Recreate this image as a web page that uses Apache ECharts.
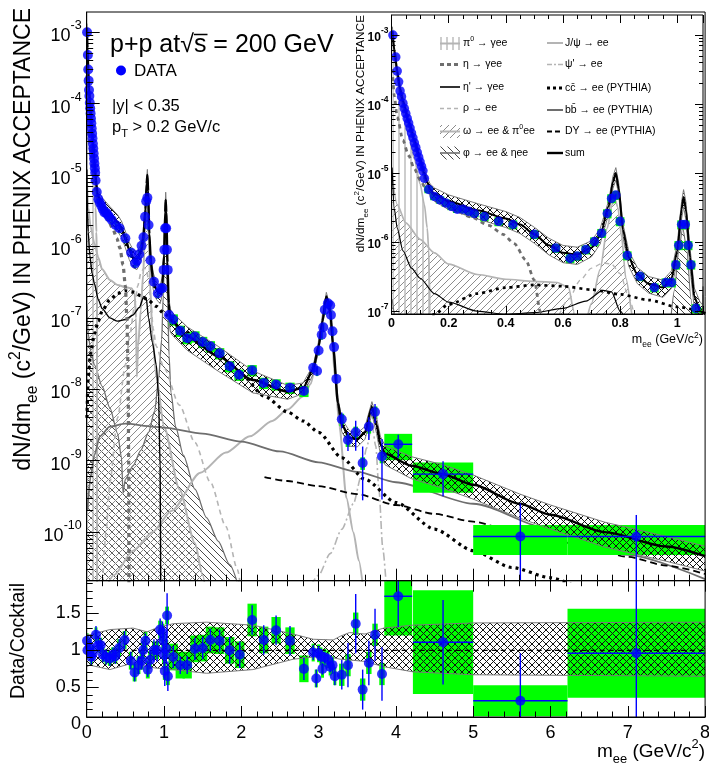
<!DOCTYPE html>
<html>
<head>
<meta charset="utf-8">
<title>Dielectron invariant mass spectrum, p+p at 200 GeV</title>
<script src="https://cdn.jsdelivr.net/npm/echarts@6.0.0/dist/echarts.min.js"></script>
<style>
html, body { margin: 0; padding: 0; background: #ffffff; }
#chart { width: 709px; height: 765px; }
</style>
</head>
<body>
<div id="chart"></div>
<script>
// ---------- measured yield dN/dm_ee (c^2/GeV) ----------
const dataMass = [0.005,0.015,0.02,0.025,0.03,0.035,0.04,0.045,0.05,0.055,
  0.06,0.065,0.07,0.075,0.08,0.085,0.09,0.095,0.10,0.105,
  0.11,0.115,0.13,0.15,0.17,0.19,0.21,0.23,0.25,0.27,
  0.29,0.325,0.375,0.425,0.5,0.575,0.625,0.65,0.68,0.71,
  0.735,0.755,0.77,0.785,0.80,0.825,0.87,0.92,0.96,0.98,
  0.995,1.005,1.015,1.028,1.038,1.048,1.065,1.12,1.21,1.30,
  1.40,1.50,1.60,1.72,1.85,1.97,2.14,2.29,2.45,2.63,
  2.81,2.93,2.98,3.00,3.04,3.06,3.08,3.12,3.15,3.16,
  3.18,3.20,3.23,3.30,3.38,3.48,3.57,3.65,3.73,3.82,
  4.03,4.61,5.61,7.11];
const dataYield = [1.0e-3,4.8e-4,3.0e-4,2.1e-4,1.55e-4,1.28e-4,1.03e-4,8.6e-5,7.3e-5,6.2e-5,
  5.3e-5,4.5e-5,3.8e-5,3.25e-5,2.75e-5,2.35e-5,2.0e-5,1.7e-5,1.45e-5,1.25e-5,
  1.08e-5,8.4e-6,5.8e-6,4.6e-6,4.1e-6,3.7e-6,3.3e-6,3.0e-6,3.0e-6,2.8e-6,
  2.6e-6,2.35e-6,2.0e-6,1.8e-6,1.3e-6,8.2e-7,5.8e-7,6.3e-7,7.8e-7,1.02e-6,
  1.35e-6,2.6e-6,4.3e-6,4.8e-6,2.0e-6,6.4e-7,3.2e-7,2.2e-7,2.6e-7,2.6e-7,
  4.7e-7,9.0e-7,1.8e-6,1.8e-6,9.0e-7,4.7e-7,1.1e-7,9.5e-8,6.6e-8,5.2e-8,
  5.5e-8,4.6e-8,4.0e-8,3.2e-8,2.1e-8,1.6e-8,1.85e-8,1.23e-8,1.17e-8,1.05e-8,
  9.5e-9,2.0e-8,1.8e-8,3.5e-8,5.8e-8,7.4e-8,1.3e-7,1.6e-7,1.5e-7,1.1e-7,
  6.5e-8,3.9e-8,1.4e-8,3.8e-9,1.95e-9,2.5e-9,9.3e-10,3.0e-9,4.8e-9,1.15e-9,
  1.7e-9,6.5e-10,8.7e-11,8.7e-11];
// relative statistical uncertainty
const dataStat = [0.02,0.02,0.02,0.02,0.02,0.02,0.02,0.02,0.02,0.02,
  0.02,0.02,0.02,0.02,0.02,0.02,0.02,0.02,0.02,0.02,
  0.02,0.02,0.02,0.02,0.02,0.02,0.02,0.02,0.02,0.02,
  0.02,0.05,0.05,0.05,0.05,0.05,0.05,0.05,0.05,0.05,
  0.05,0.05,0.05,0.05,0.05,0.05,0.05,0.05,0.05,0.05,
  0.05,0.05,0.05,0.05,0.05,0.05,0.05,0.12,0.12,0.12,
  0.12,0.12,0.12,0.12,0.12,0.12,0.12,0.12,0.12,0.12,
  0.12,0.1,0.1,0.1,0.1,0.1,0.1,0.1,0.1,0.1,
  0.1,0.1,0.1,0.25,0.3,0.45,0.7,0.35,0.3,0.75,
  0.36,0.51,1.9,1.0];
// relative systematic uncertainty
const dataSyst = [0.12,0.12,0.12,0.12,0.12,0.12,0.12,0.12,0.12,0.12,
  0.12,0.12,0.12,0.12,0.12,0.12,0.12,0.12,0.12,0.12,
  0.12,0.12,0.12,0.12,0.12,0.12,0.12,0.12,0.12,0.12,
  0.12,0.15,0.15,0.15,0.15,0.15,0.15,0.15,0.15,0.15,
  0.15,0.15,0.15,0.15,0.15,0.15,0.15,0.15,0.15,0.15,
  0.15,0.15,0.15,0.15,0.15,0.15,0.15,0.18,0.18,0.18,
  0.18,0.18,0.18,0.18,0.18,0.18,0.18,0.18,0.18,0.18,
  0.18,0.15,0.15,0.15,0.15,0.15,0.15,0.15,0.15,0.15,
  0.15,0.15,0.15,0.2,0.2,0.2,0.2,0.2,0.2,0.2,
  0.4,0.45,0.45,0.45];
// half bin width (GeV/c^2)
const dataHalfWidth = [0.0025,0.0025,0.0025,0.0025,0.0025,0.0025,0.0025,0.0025,0.0025,0.0025,
  0.0025,0.0025,0.0025,0.0025,0.0025,0.0025,0.0025,0.0025,0.0025,0.0025,
  0.0025,0.0025,0.015,0.015,0.015,0.015,0.015,0.015,0.015,0.015,
  0.015,0.015,0.015,0.015,0.015,0.015,0.015,0.015,0.015,0.015,
  0.015,0.015,0.015,0.015,0.015,0.015,0.015,0.015,0.015,0.015,
  0.015,0.015,0.015,0.015,0.015,0.015,0.015,0.06,0.06,0.06,
  0.06,0.06,0.06,0.06,0.06,0.06,0.06,0.06,0.06,0.06,
  0.06,0.015,0.015,0.015,0.015,0.015,0.015,0.015,0.015,0.015,
  0.015,0.015,0.015,0.03,0.03,0.03,0.03,0.03,0.03,0.03,
  0.18,0.39,0.61,0.89];

// ---------- data / cocktail ----------
const ratioMass = [0.005,0.01,0.04,0.06,0.08,0.12,0.15,0.18,0.21,0.25,
  0.30,0.34,0.37,0.42,0.49,0.57,0.62,0.67,0.71,0.73,
  0.76,0.79,0.82,0.87,0.91,0.95,0.98,0.99,1.0,1.01,
  1.03,1.04,1.05,1.12,1.21,1.30,1.40,1.50,1.60,1.72,
  1.85,1.98,2.14,2.29,2.45,2.63,2.81,2.93,2.97,3.0,
  3.03,3.05,3.08,3.12,3.15,3.18,3.21,3.30,3.38,3.48,
  3.57,3.65,3.73,3.82,4.03,4.61,5.61,7.11];
const ratioValue = [1.13,1.0,1.05,0.91,0.96,1.21,1.07,1.07,0.94,0.91,
  0.89,0.94,0.92,1.03,1.14,0.86,0.70,0.80,0.86,1.0,
  1.13,0.74,0.87,1.0,1.0,1.28,1.24,1.13,0.94,0.72,
  1.02,1.47,0.65,0.91,0.80,0.80,1.02,1.03,1.14,1.13,
  1.0,0.94,1.41,1.14,1.27,1.13,0.75,0.97,0.62,0.96,
  0.92,0.75,0.90,0.88,0.78,0.80,0.65,0.67,0.80,1.36,
  0.47,0.83,1.21,0.68,1.73,1.11,0.32,0.96];
const ratioStat = [0.08,0.1,0.1,0.1,0.1,0.12,0.1,0.1,0.1,0.1,
  0.1,0.1,0.1,0.12,0.12,0.12,0.12,0.12,0.12,0.12,
  0.1,0.1,0.12,0.15,0.15,0.15,0.15,0.15,0.15,0.2,
  0.2,0.3,0.2,0.15,0.12,0.12,0.15,0.15,0.15,0.15,
  0.18,0.18,0.2,0.2,0.2,0.2,0.15,0.1,0.12,0.1,
  0.1,0.08,0.08,0.08,0.08,0.1,0.12,0.2,0.3,0.4,
  0.27,0.3,0.35,0.36,0.42,0.57,0.64,1.0];
const ratioSyst = [0.1,0.1,0.1,0.1,0.1,0.1,0.1,0.1,0.1,0.1,
  0.1,0.1,0.1,0.12,0.12,0.12,0.12,0.12,0.12,0.12,
  0.12,0.12,0.12,0.12,0.12,0.12,0.12,0.12,0.12,0.12,
  0.12,0.12,0.12,0.18,0.18,0.18,0.18,0.18,0.18,0.18,
  0.18,0.18,0.22,0.18,0.18,0.18,0.18,0.12,0.12,0.12,
  0.12,0.12,0.12,0.12,0.12,0.12,0.12,0.15,0.15,0.15,
  0.15,0.15,0.15,0.15,0.53,0.7,0.21,0.6];
const ratioHalfWidth = [0.02,0.02,0.02,0.02,0.02,0.02,0.02,0.02,0.02,0.02,
  0.025,0.025,0.025,0.025,0.025,0.025,0.025,0.025,0.025,0.025,
  0.025,0.025,0.025,0.025,0.025,0.025,0.025,0.025,0.025,0.025,
  0.025,0.025,0.025,0.06,0.06,0.06,0.06,0.06,0.06,0.06,
  0.06,0.06,0.06,0.06,0.06,0.06,0.06,0.02,0.02,0.02,
  0.02,0.02,0.02,0.02,0.02,0.02,0.02,0.035,0.035,0.035,
  0.035,0.035,0.035,0.035,0.18,0.39,0.61,0.89];

// cocktail uncertainty band around unity
const ratioBandMass = [0,0.04,0.3,0.6,0.78,0.9,1.12,1.55,2.15,2.67,2.93,3.19,3.28,3.4,3.6,3.84,4.22,5.0,8.0];
const ratioBandHigh = [1.22,1.21,1.28,1.30,1.25,1.30,1.36,1.38,1.34,1.22,1.15,1.14,1.19,1.24,1.22,1.30,1.34,1.37,1.38];
const ratioBandLow  = [0.78,0.80,0.74,0.83,0.78,0.76,0.74,0.69,0.74,0.88,0.91,0.90,0.88,0.87,0.85,0.78,0.71,0.67,0.65];

// ---------- cocktail sum with relative uncertainty ----------
const sumMass = [0.003,0.01,0.02,0.03,0.04,0.06,0.08,0.10,0.115,0.125,
  0.135,0.15,0.2,0.3,0.4,0.45,0.5,0.55,0.6,0.65,
  0.7,0.73,0.76,0.775,0.785,0.795,0.81,0.83,0.86,0.9,
  0.95,0.98,1.0,1.015,1.022,1.03,1.045,1.06,1.08,1.1,
  1.3,1.7,2.15,2.6,2.8,2.93,3.0,3.05,3.1,3.15,
  3.19,3.25,3.3,3.4,3.5,3.6,3.69,3.75,3.8,3.86,
  4.2,4.6,5.0,5.6,6.0,6.7,7.5,8.0];
const sumYield = [1.15e-3,6.0e-4,3.0e-4,1.65e-4,1.1e-4,5.6e-5,3.0e-5,1.55e-5,9.8e-6,7.4e-6,
  5.8e-6,5.0e-6,3.9e-6,2.9e-6,2.2e-6,1.8e-6,1.3e-6,9.0e-7,7.0e-7,6.6e-7,
  8.3e-7,1.25e-6,3.3e-6,7.5e-6,1.0e-5,6.0e-6,1.5e-6,6.0e-7,3.4e-7,2.5e-7,
  2.2e-7,3.0e-7,7.5e-7,3.0e-6,4.5e-6,3.0e-6,6.0e-7,1.6e-7,1.0e-7,9.0e-8,
  5.5e-8,2.9e-8,1.35e-8,9.3e-9,1.05e-8,1.9e-8,4.0e-8,9.0e-8,2.0e-7,1.25e-7,
  3.8e-8,6.5e-9,3.2e-9,2.1e-9,2.0e-9,2.5e-9,5.6e-9,3.2e-9,1.7e-9,1.25e-9,
  8.5e-10,6.5e-10,4.6e-10,2.5e-10,1.75e-10,1.0e-10,6.3e-11,4.6e-11];
const sumRelErr = [0.15,0.15,0.15,0.15,0.15,0.15,0.15,0.16,0.17,0.18,
  0.2,0.22,0.24,0.25,0.26,0.26,0.26,0.27,0.28,0.28,
  0.26,0.25,0.22,0.2,0.2,0.2,0.22,0.25,0.26,0.27,
  0.28,0.28,0.28,0.28,0.28,0.3,0.32,0.34,0.35,0.35,
  0.36,0.38,0.34,0.22,0.17,0.15,0.14,0.14,0.14,0.14,
  0.15,0.18,0.2,0.24,0.22,0.2,0.2,0.25,0.28,0.3,
  0.34,0.36,0.37,0.37,0.37,0.38,0.38,0.38];

// ---------- cocktail components [mass, yield] ----------
const cocktailPi0 = [[0.003,1.0e-3],[0.01,4.7e-4],[0.02,2.35e-4],[0.03,1.3e-4],[0.04,7.5e-5],[0.06,3.5e-5],
  [0.08,1.6e-5],[0.1,7e-6],[0.115,3.5e-6],[0.125,1.6e-6],[0.13,8e-7],[0.1335,2e-7],[0.1348,1e-11]];
const cocktailEta = [[0.003,3.2e-4],[0.01,1.3e-4],[0.02,6.5e-5],[0.04,3.0e-5],[0.06,1.8e-5],[0.08,1.15e-5],
  [0.1,8.0e-6],[0.12,6.0e-6],[0.14,4.7e-6],[0.17,3.8e-6],[0.22,2.9e-6],[0.28,2.3e-6],[0.34,1.75e-6],
  [0.39,1.3e-6],[0.43,9.5e-7],[0.47,5.5e-7],[0.5,2.8e-7],[0.52,1.0e-7],[0.535,2e-8],[0.543,1e-9],[0.547,1e-11]];
const cocktailEtaPrime = [[0.002,1.2e-5],[0.01,3e-6],[0.02,1.6e-6],[0.04,7.5e-7],[0.07,4.2e-7],[0.1,3.0e-7],
  [0.15,1.8e-7],[0.2,1.35e-7],[0.3,1.0e-7],[0.4,9e-8],[0.5,9.5e-8],[0.6,1.1e-7],[0.68,1.4e-7],[0.74,2.0e-7],
  [0.77,1.9e-7],[0.8,1.0e-7],[0.85,4.5e-8],[0.9,2.2e-8],[0.93,8e-9],[0.95,8e-10],[0.958,1e-11]];
const cocktailRho = [[0.2,1.5e-11],[0.25,1e-10],[0.3,5e-10],[0.4,4e-9],[0.5,2.2e-8],[0.56,6e-8],[0.62,1.5e-7],
  [0.66,2.8e-7],[0.7,4.2e-7],[0.74,5e-7],[0.77,4.8e-7],[0.8,3.5e-7],[0.83,1.6e-7],[0.86,7e-8],[0.9,4e-8],
  [1.0,2e-8],[1.2,6e-9],[1.4,1.8e-9],[1.6,5e-10],[1.8,1.2e-10],[1.95,3e-11],[2.02,1e-11]];
const cocktailOmega = [[0.002,9e-6],[0.02,3.5e-6],[0.05,1.9e-6],[0.1,1.1e-6],[0.15,7e-7],[0.2,4.8e-7],
  [0.3,3.4e-7],[0.4,2.9e-7],[0.5,2.7e-7],[0.58,2.6e-7],[0.62,2.2e-7],[0.638,1e-7],[0.648,1.5e-8],
  [0.665,4e-8],[0.7,1.3e-7],[0.73,4e-7],[0.755,1.6e-6],[0.772,3.5e-6],[0.782,4.2e-6],[0.792,3.2e-6],
  [0.805,1.2e-6],[0.82,3e-7],[0.85,6e-8],[0.9,1.5e-8],[1.0,3e-9],[1.2,4e-10],[1.4,7e-11],[1.5,2.5e-11],[1.56,1e-11]];
const cocktailPhi = [[0.002,1.5e-7],[0.02,6e-8],[0.05,3.5e-8],[0.1,2.2e-8],[0.2,1.1e-8],[0.3,5.5e-9],
  [0.4,2.4e-9],[0.45,1.1e-9],[0.47,3.5e-10],[0.5,5.5e-10],[0.6,8.5e-10],[0.7,1.4e-9],[0.8,2.5e-9],
  [0.88,5e-9],[0.93,1.4e-8],[0.97,5e-8],[0.99,2e-7],[1.005,7.5e-7],[1.019,1.6e-6],[1.033,8e-7],
  [1.048,1.5e-7],[1.065,3e-8],[1.09,9e-9],[1.15,3e-9],[1.25,1.2e-9],[1.4,4e-10],[1.55,1.6e-10],
  [1.7,7.5e-11],[1.85,3.5e-11],[1.98,1.5e-11]];
const cocktailJpsi = [[0.2,1.2e-11],[0.35,2.5e-11],[0.6,5.5e-11],[0.85,1.0e-10],[1.1,2e-10],[1.47,6.8e-10],
  [1.8,1.3e-9],[2.11,2.2e-9],[2.4,3.6e-9],[2.6,5.2e-9],[2.8,8e-9],[2.9,1.2e-8],[2.97,2.6e-8],[3.02,6e-8],
  [3.06,1.2e-7],[3.1,1.75e-7],[3.13,1.5e-7],[3.17,6e-8],[3.21,1.5e-8],[3.27,3e-9],[3.36,3e-10],
  [3.45,1e-10],[3.52,4e-11],[3.58,1.5e-11]];
const cocktailPsiPrime = [[2.9,1.8e-11],[3.0,2.5e-11],[3.15,5e-11],[3.3,1.1e-10],[3.45,2.5e-10],[3.55,6e-10],
  [3.62,1.5e-9],[3.69,3.2e-9],[3.74,1.6e-9],[3.78,4e-10],[3.83,6e-11],[3.88,1.5e-11]];
const cocktailCharm = [[0.003,4e-9],[0.02,1.5e-8],[0.05,3.2e-8],[0.1,6e-8],[0.15,9e-8],[0.2,1.25e-7],
  [0.3,1.8e-7],[0.4,2.2e-7],[0.5,2.4e-7],[0.6,2.3e-7],[0.7,2.05e-7],[0.8,1.75e-7],[0.9,1.45e-7],
  [1.0,1.15e-7],[1.2,7.5e-8],[1.5,4.2e-8],[1.8,2.4e-8],[2.0,1.6e-8],[2.3,8e-9],[2.6,4.8e-9],[2.8,3.6e-9],
  [3.0,2.5e-9],[3.3,1.1e-9],[3.6,5.5e-10],[4.0,2.6e-10],[4.5,1.1e-10],[5.0,5.5e-11],[5.5,3.2e-11],
  [6.0,2.3e-11],[6.3,1.8e-11]];
const cocktailBottom = [[0.01,2e-10],[0.05,6e-10],[0.1,1.2e-9],[0.17,2.2e-9],[0.3,3.0e-9],[0.5,3.3e-9],
  [0.86,3.0e-9],[1.0,2.9e-9],[1.5,2.4e-9],[2.0,1.85e-9],[2.5,1.35e-9],[3.0,9.5e-10],[3.5,7e-10],
  [4.0,5e-10],[5.0,2.5e-10],[6.0,1.1e-10],[7.0,4.8e-11],[8.0,2.2e-11]];
const cocktailDrellYan = [[2.3,5.9e-10],[2.6,5.2e-10],[3.0,4.4e-10],[3.5,3.4e-10],[4.0,2.4e-10],[4.5,1.8e-10],
  [5.0,1.4e-10],[5.5,1.05e-10],[6.0,8e-11],[6.5,6e-11],[7.0,4.5e-11],[7.5,3.4e-11],[8.0,2.6e-11]];

// ---------- axis ranges and tick labels ----------
const mainRange = [2.09e-11, 1.92e-3];
const insetRange = [9.1e-8, 1.95e-3];
const insetMassMax = 1.09;
const mainDecades = [1e-10,1e-9,1e-8,1e-7,1e-6,1e-5,1e-4,1e-3];
const insetDecades = [1e-7,1e-6,1e-5,1e-4,1e-3];
const ratioLabels = [0.5, 1, 1.5];
const ratioMinor = [0.2,0.3,0.4,0.6,0.7,0.8,0.9,1.1,1.2,1.3,1.4,1.6,1.7,1.8,1.9];

const FONT = "'Liberation Sans', Arial, Helvetica, sans-serif";
const LIGHT = '#b4b4b4';
const DARK = '#6e6e6e';
const BLUE = '#0000ff';
const GREEN = '#00ff00';

function logMinor(range) {
  const out = [];
  for (let e = Math.floor(Math.log10(range[0])); e <= Math.ceil(Math.log10(range[1])); e++) {
    for (let k = 2; k <= 9; k++) {
      const v = k * Math.pow(10, e);
      if (v > range[0] && v < range[1]) out.push(v);
    }
  }
  return out;
}

function hatch(kind, color, size, width) {
  const c = document.createElement('canvas');
  c.width = size; c.height = size;
  const g = c.getContext('2d');
  g.strokeStyle = color; g.lineWidth = width;
  g.beginPath();
  if (kind === 'v') { g.moveTo(size / 2, 0); g.lineTo(size / 2, size); }
  if (kind === '/' || kind === 'x') {
    g.moveTo(-1, size + 1); g.lineTo(size + 1, -1);
    g.moveTo(-1, 1); g.lineTo(1, -1);
    g.moveTo(size - 1, size + 1); g.lineTo(size + 1, size - 1);
  }
  if (kind === '\\' || kind === 'x') {
    g.moveTo(-1, -1); g.lineTo(size + 1, size + 1);
    g.moveTo(size - 1, -1); g.lineTo(size + 1, 1);
    g.moveTo(-1, size - 1); g.lineTo(1, size + 1);
  }
  g.stroke();
  return c;
}
const patPi0 = hatch('v', '#bdbdbd', 6, 1.5);
const patOmega = hatch('/', '#8c8c8c', 7, 1);
const patPhi = hatch('\\', '#4a4a4a', 7, 1);
const patBand = hatch('x', '#111111', 7, 1);

function pattern(p) { return { image: p, repeat: 'repeat' }; }

// Sutherland-Hodgman clipping of a polygon (pixel coords) to a rectangle
function clipPolygon(points, r) {
  const x0 = r.x, x1 = r.x + r.width, y0 = r.y, y1 = r.y + r.height;
  const planes = [
    [p => p[0] >= x0, (a, b) => [x0, a[1] + (x0 - a[0]) / (b[0] - a[0]) * (b[1] - a[1])]],
    [p => p[0] <= x1, (a, b) => [x1, a[1] + (x1 - a[0]) / (b[0] - a[0]) * (b[1] - a[1])]],
    [p => p[1] >= y0, (a, b) => [a[0] + (y0 - a[1]) / (b[1] - a[1]) * (b[0] - a[0]), y0]],
    [p => p[1] <= y1, (a, b) => [a[0] + (y1 - a[1]) / (b[1] - a[1]) * (b[0] - a[0]), y1]]
  ];
  let out = points;
  for (const [inside, cut] of planes) {
    const input = out;
    out = [];
    for (let i = 0; i < input.length; i++) {
      const cur = input[i], prev = input[(i + input.length - 1) % input.length];
      const ci = inside(cur), pi = inside(prev);
      if (ci) { if (!pi) out.push(cut(prev, cur)); out.push(cur); }
      else if (pi) out.push(cut(prev, cur));
    }
    if (!out.length) break;
  }
  return out;
}

function curve(pts, style, xi, yi, z, pat) {
  const s = {
    type: 'line', xAxisIndex: xi, yAxisIndex: yi, data: pts, z: z,
    symbol: 'none', showSymbol: false, smooth: 0.25, smoothMonotone: 'x',
    lineStyle: Object.assign({ cap: 'butt', join: 'round' }, style),
    silent: true, animation: false, clip: true
  };
  if (pat) s.areaStyle = { color: pattern(pat), opacity: 1, origin: 'start' };
  return s;
}

// hatched uncertainty band between lo and hi, built through the axes
function band(xs, lo, hi, xi, yi, z) {
  return {
    type: 'custom', xAxisIndex: xi, yAxisIndex: yi, z: z, silent: true, animation: false,
    data: [[xs[0], hi[0]]],
    renderItem(params, api) {
      const cs = params.coordSys;
      const rect = { x: cs.x, y: cs.y, width: cs.width, height: cs.height };
      const top = xs.map((x, i) => api.coord([x, hi[i]]));
      const bot = xs.map((x, i) => api.coord([x, lo[i]]));
      const poly = clipPolygon(top.concat(bot.slice().reverse()), rect);
      const edge = { stroke: '#7a7a7a', lineWidth: 1, fill: null };
      return { type: 'group', children: [
        { type: 'polygon', shape: { points: poly }, style: { fill: pattern(patBand) } },
        { type: 'polyline', shape: { points: echarts.graphic.clipPointsByRect(top, rect) }, style: edge },
        { type: 'polyline', shape: { points: echarts.graphic.clipPointsByRect(bot, rect) }, style: edge }
      ] };
    }
  };
}

function boxes(items, xi, yi, z) {
  return {
    type: 'custom', xAxisIndex: xi, yAxisIndex: yi, z: z, silent: true, animation: false,
    data: items,
    renderItem(params, api) {
      const cs = params.coordSys;
      const x = api.value(0), lo = api.value(1), hi = api.value(2), hw = api.value(3);
      const a = api.coord([x - hw, hi]);
      const b = api.coord([x + hw, lo]);
      const r = echarts.graphic.clipRectByRect(
        { x: a[0], y: a[1], width: b[0] - a[0], height: b[1] - a[1] },
        { x: cs.x, y: cs.y, width: cs.width, height: cs.height });
      if (!r) return null;
      return { type: 'rect', shape: r, style: { fill: GREEN } };
    }
  };
}

function bars(items, xi, yi, z) {
  return {
    type: 'custom', xAxisIndex: xi, yAxisIndex: yi, z: z, silent: true, animation: false,
    data: items,
    renderItem(params, api) {
      const cs = params.coordSys;
      const x = api.value(0), y = api.value(1), lo = api.value(2), hi = api.value(3), hw = api.value(4);
      const c = api.coord([x, y]);
      if (!(c[0] >= cs.x && c[0] <= cs.x + cs.width)) return null;
      const children = [];
      const top = Math.max(api.coord([x, hi])[1], cs.y);
      const bot = Math.min(api.coord([x, lo])[1], cs.y + cs.height);
      if (bot > top) children.push({ type: 'line', shape: { x1: c[0], y1: top, x2: c[0], y2: bot },
        style: { stroke: BLUE, lineWidth: 1.4 } });
      if (hw > 0 && c[1] >= cs.y && c[1] <= cs.y + cs.height) {
        const l = Math.max(api.coord([x - hw, y])[0], cs.x);
        const r = Math.min(api.coord([x + hw, y])[0], cs.x + cs.width);
        children.push({ type: 'line', shape: { x1: l, y1: c[1], x2: r, y2: c[1] },
          style: { stroke: BLUE, lineWidth: 1.4 } });
      }
      return { type: 'group', children: children };
    }
  };
}

function markers(pts, xi, yi, z, size) {
  return { type: 'scatter', xAxisIndex: xi, yAxisIndex: yi, z: z, data: pts, symbol: 'circle',
    symbolSize: size, itemStyle: { color: BLUE }, silent: true, animation: false, clip: true };
}

const TINY = 1e-30;
const yieldBoxes = dataMass.map((m, i) => [m, Math.max(dataYield[i] * (1 - dataSyst[i]), TINY),
  dataYield[i] * (1 + dataSyst[i]), dataHalfWidth[i]]);
const yieldBars = dataMass.map((m, i) => [m, dataYield[i], Math.max(dataYield[i] * (1 - dataStat[i]), TINY),
  dataYield[i] * (1 + dataStat[i]), dataHalfWidth[i] >= 0.15 ? dataHalfWidth[i] : 0]);
const yieldPoints = dataMass.map((m, i) => [m, dataYield[i]]);
const ratioBoxes = ratioMass.map((m, i) => [m, ratioValue[i] - ratioSyst[i], ratioValue[i] + ratioSyst[i], ratioHalfWidth[i]]);
const ratioBars = ratioMass.map((m, i) => [m, ratioValue[i], ratioValue[i] - ratioStat[i], ratioValue[i] + ratioStat[i],
  ratioHalfWidth[i] >= 0.15 ? ratioHalfWidth[i] : 0]);
const ratioPoints = ratioMass.map((m, i) => [m, ratioValue[i]]);
const sumPts = sumMass.map((m, i) => [m, sumYield[i]]);
const sumLow = sumYield.map((v, i) => v * (1 - sumRelErr[i]));
const sumHigh = sumYield.map((v, i) => v * (1 + sumRelErr[i]));

// all cocktail curves + band + data for one log panel
function spectrumSeries(xi, yi, zb, k, msize) {
  const w = v => v * k;
  return [
    curve(cocktailPhi, { color: DARK, width: w(1.3) }, xi, yi, zb, patPhi),
    curve(cocktailOmega, { color: LIGHT, width: w(2) }, xi, yi, zb, patOmega),
    curve(cocktailPi0, { color: LIGHT, width: w(2) }, xi, yi, zb, patPi0),
    curve(cocktailJpsi, { color: LIGHT, width: w(2) }, xi, yi, zb + 1),
    curve(cocktailPsiPrime, { color: LIGHT, width: w(1.6), type: [8, 3, 2, 3] }, xi, yi, zb + 1),
    curve(cocktailRho, { color: LIGHT, width: w(1.6), type: [5, 4] }, xi, yi, zb + 1),
    curve(cocktailBottom, { color: DARK, width: w(1.8) }, xi, yi, zb + 1),
    curve(cocktailDrellYan, { color: '#000', width: w(1.8), type: [7, 4] }, xi, yi, zb + 1),
    curve(cocktailEtaPrime, { color: '#000', width: w(1.4) }, xi, yi, zb + 1),
    curve(cocktailEta, { color: DARK, width: w(3.2), type: [4, 4] }, xi, yi, zb + 1),
    curve(cocktailCharm, { color: '#000', width: w(3.2), type: [3, 4] }, xi, yi, zb + 1),
    boxes(yieldBoxes, xi, yi, zb + 2),
    band(sumMass, sumLow, sumHigh, xi, yi, zb + 3),
    curve(sumPts, { color: '#000', width: w(2.4) }, xi, yi, zb + 4),
    bars(yieldBars, xi, yi, zb + 5),
    markers(yieldPoints, xi, yi, zb + 6, msize)
  ];
}

const ratioSeries = [
  boxes(ratioBoxes, 1, 2, 3),
  band(ratioBandMass, ratioBandLow, ratioBandHigh, 1, 2, 4),
  { type: 'line', xAxisIndex: 1, yAxisIndex: 2, z: 5, data: [[0, 1], [8, 1]], symbol: 'none', silent: true,
    animation: false, lineStyle: { color: '#000', width: 1.4, type: [5, 4] } },
  bars(ratioBars, 1, 2, 6),
  markers(ratioPoints, 1, 2, 7, 10)
];

function powLabel(v) {
  const e = Math.round(Math.log10(v));
  return '{b|10}{s|' + e + '}';
}
function powRich(big, small) {
  return {
    b: { fontSize: big, fontFamily: FONT, color: '#000', lineHeight: Math.round(big * 1.45), verticalAlign: 'bottom' },
    s: { fontSize: small, fontFamily: FONT, color: '#000', lineHeight: small, verticalAlign: 'top' }
  };
}
function blackLine(w) { return { color: '#000', width: w || 1 }; }

function xAxisDef(grid, max, interval, opts) {
  return Object.assign({
    type: 'value', gridIndex: grid, min: 0, max: max, interval: interval,
    axisLine: { show: true, onZero: false, lineStyle: blackLine(1) },
    axisTick: { show: true, inside: true, length: 12, lineStyle: blackLine(1) },
    minorTick: { show: true, splitNumber: 5, length: 6, lineStyle: blackLine(1) },
    axisLabel: { show: false },
    splitLine: { show: false }, minorSplitLine: { show: false }
  }, opts);
}
function yAxisDef(grid, type, range, opts) {
  return Object.assign({
    type: type, gridIndex: grid, min: range[0], max: range[1],
    axisLine: { show: false, onZero: false, lineStyle: blackLine(1) },
    axisTick: { show: true, inside: true, length: 12, lineStyle: blackLine(1) },
    axisLabel: { show: false },
    splitLine: { show: false }, minorTick: { show: false }, minorSplitLine: { show: false }
  }, opts);
}

function rich(F) {
  const s = Math.round(F * 0.68 * 10) / 10;
  return {
    n: { fontSize: F, fontFamily: FONT, fill: '#000', lineHeight: Math.round(F * 1.45) },
    sub: { fontSize: s, fontFamily: FONT, fill: '#000', lineHeight: Math.round(F * 0.78), verticalAlign: 'bottom' },
    sup: { fontSize: s, fontFamily: FONT, fill: '#000', lineHeight: Math.round(F * 0.78), verticalAlign: 'top' }
  };
}
function label(x, y, text, F) {
  return { type: 'text', x: x, y: y, z: 20, silent: true,
    style: { text: text, fontSize: F, fontFamily: FONT, fill: '#000', align: 'left', verticalAlign: 'middle', rich: rich(F) } };
}
function richText(x, y, text, F, align, rot) {
  const el = { type: 'text', x: x, y: y, z: 20, silent: true,
    style: { text: text, fontSize: F, fontFamily: FONT, fill: '#000', align: align, verticalAlign: 'middle', rich: rich(F) } };
  if (rot) el.rotation = rot;
  return el;
}
function legendLine(x1, x2, y, style) {
  return { type: 'line', z: 20, silent: true, shape: { x1: x1, y1: y, x2: x2, y2: y },
    style: Object.assign({ lineCap: 'butt' }, style) };
}
function legendBox(x, y, w, h, pat) {
  return { type: 'rect', z: 20, silent: true, shape: { x: x, y: y, width: w, height: h },
    style: { fill: pattern(pat) } };
}

// inset legend rows
const LX = 440, LW = 20, RX = 547, RW = 16;
const legendRowsLeft = [43.5, 64.5, 87, 108.5, 131.5, 153];
const legendRowsRight = [43, 64.5, 88, 110, 131.5, 153];
const LF = 10.5;
const legendGraphics = [
  legendBox(LX, legendRowsLeft[0] - 6.5, LW, 13, patPi0),
  legendLine(LX, LX + LW, legendRowsLeft[0], { stroke: LIGHT, lineWidth: 2 }),
  legendLine(LX, LX + LW, legendRowsLeft[1], { stroke: DARK, lineWidth: 3, lineDash: [4, 3] }),
  legendLine(LX, LX + LW, legendRowsLeft[2], { stroke: '#000', lineWidth: 1.6 }),
  legendLine(LX, LX + LW, legendRowsLeft[3], { stroke: LIGHT, lineWidth: 1.6, lineDash: [4, 3] }),
  legendBox(LX, legendRowsLeft[4] - 6.5, LW, 13, patOmega),
  legendLine(LX, LX + LW, legendRowsLeft[4], { stroke: LIGHT, lineWidth: 2 }),
  legendBox(LX, legendRowsLeft[5] - 6.5, LW, 13, patPhi),
  legendLine(LX, LX + LW, legendRowsLeft[5], { stroke: DARK, lineWidth: 1.6 }),
  legendLine(RX, RX + RW, legendRowsRight[0], { stroke: LIGHT, lineWidth: 2 }),
  legendLine(RX, RX + RW, legendRowsRight[1], { stroke: LIGHT, lineWidth: 1.6, lineDash: [5, 2, 2, 2] }),
  legendLine(RX, RX + RW, legendRowsRight[2], { stroke: '#000', lineWidth: 3, lineDash: [3, 3] }),
  legendLine(RX, RX + RW, legendRowsRight[3], { stroke: DARK, lineWidth: 2 }),
  legendLine(RX, RX + RW, legendRowsRight[4], { stroke: '#000', lineWidth: 1.8, lineDash: [5, 3] }),
  legendLine(RX, RX + RW, legendRowsRight[5], { stroke: '#000', lineWidth: 2.4 }),
  label(463, legendRowsLeft[0], '{n|π}{sup|0}{n| → γee}', LF),
  label(463, legendRowsLeft[1], '{n|η → γee}', LF),
  label(463, legendRowsLeft[2], '{n|η\' → γee}', LF),
  label(463, legendRowsLeft[3], '{n|ρ → ee}', LF),
  label(463, legendRowsLeft[4], '{n|ω → ee & π}{sup|0}{n|ee}', LF),
  label(463, legendRowsLeft[5], '{n|φ → ee & ηee}', LF),
  label(565, legendRowsRight[0], '{n|J/ψ → ee}', LF),
  label(565, legendRowsRight[1], '{n|ψ\' → ee}', LF),
  label(565, legendRowsRight[2], '{n|cc\u0304 → ee (PYTHIA)}', LF),
  label(565, legendRowsRight[3], '{n|bb\u0304 → ee (PYTHIA)}', LF),
  label(565, legendRowsRight[4], '{n|DY → ee (PYTHIA)}', LF),
  label(565, legendRowsRight[5], '{n|sum}', LF)
];

const yTitle = '{n|dN/dm}{sub|ee}{n| (c}{sup|2}{n|/GeV) IN PHENIX ACCEPTANCE}';
const massTitle = '{n|m}{sub|ee}{n| (GeV/c}{sup|2}{n|)}';

const option = {
  animation: false,
  backgroundColor: '#ffffff',
  grid: [
    { left: 86.7, top: 12, width: 618.4, height: 568.7, show: true, borderColor: '#000', borderWidth: 1,
      backgroundColor: 'transparent', z: 9, containLabel: false, outerBoundsMode: 'none' },
    { left: 86.7, top: 580.7, width: 618.4, height: 136.3, show: true, borderColor: '#000', borderWidth: 1,
      backgroundColor: 'transparent', z: 9, containLabel: false, outerBoundsMode: 'none' },
    { left: 391.5, top: 15, width: 311.5, height: 299, show: true, borderColor: '#000', borderWidth: 1,
      backgroundColor: 'transparent', z: 18, containLabel: false, outerBoundsMode: 'none' }
  ],
  xAxis: [
    xAxisDef(0, 8, 1, { z: 9 }),
    xAxisDef(1, 8, 1, { z: 9, axisTick: { show: true, inside: true, length: 11, lineStyle: blackLine(1) },
      minorTick: { show: true, splitNumber: 5, length: 5.5, lineStyle: blackLine(1) },
      axisLabel: { show: true, margin: 7, fontSize: 18, fontFamily: FONT, color: '#000' } }),
    xAxisDef(1, 8, 1, { z: 9, position: 'top', axisLine: { show: false },
      axisTick: { show: true, inside: true, length: 11, lineStyle: blackLine(1) },
      minorTick: { show: true, splitNumber: 5, length: 5.5, lineStyle: blackLine(1) } }),
    xAxisDef(2, insetMassMax, 0.2, { z: 19,
      axisTick: { show: true, inside: true, length: 8, lineStyle: blackLine(1) },
      minorTick: { show: true, splitNumber: 4, length: 4, lineStyle: blackLine(1) },
      axisLabel: { show: true, margin: 3, fontSize: 12.5, fontWeight: 'bold', fontFamily: FONT, color: '#000',
        showMaxLabel: false,
        formatter: v => (v === 0 ? '0' : (Math.abs(v - 1) < 1e-9 ? '1' : v.toFixed(1))) } }),
    xAxisDef(2, insetMassMax, 0.2, { z: 19, position: 'top', axisLine: { show: false },
      axisTick: { show: true, inside: true, length: 8, lineStyle: blackLine(1) },
      minorTick: { show: true, splitNumber: 4, length: 4, lineStyle: blackLine(1) } })
  ],
  yAxis: [
    yAxisDef(0, 'log', mainRange, { z: 9, position: 'left',
      axisLine: { show: true, onZero: false, lineStyle: blackLine(1) },
      axisTick: { show: true, inside: true, length: 13, customValues: mainDecades, lineStyle: blackLine(1) },
      axisLabel: { show: true, margin: 5, customValues: mainDecades, formatter: powLabel, rich: powRich(18, 12.5) } }),
    yAxisDef(0, 'log', mainRange, { z: 9, position: 'left',
      axisTick: { show: true, inside: true, length: 6.5, customValues: logMinor(mainRange), lineStyle: blackLine(1) } }),
    yAxisDef(1, 'value', [0.1, 1.94], { z: 9, position: 'left',
      axisLine: { show: true, onZero: false, lineStyle: blackLine(1) },
      axisTick: { show: true, inside: true, length: 12, customValues: ratioLabels, lineStyle: blackLine(1) },
      axisLabel: { show: true, margin: 6, customValues: ratioLabels, fontSize: 18, fontFamily: FONT, color: '#000',
        formatter: v => String(v) } }),
    yAxisDef(1, 'value', [0.1, 1.94], { z: 9, position: 'left',
      axisTick: { show: true, inside: true, length: 6, customValues: ratioMinor, lineStyle: blackLine(1) } }),
    yAxisDef(2, 'log', insetRange, { z: 19, position: 'left',
      axisLine: { show: true, onZero: false, lineStyle: blackLine(1) },
      axisTick: { show: true, inside: true, length: 8, customValues: insetDecades, lineStyle: blackLine(1) },
      axisLabel: { show: true, margin: 3, customValues: insetDecades, formatter: powLabel,
        rich: { b: { fontSize: 12, fontWeight: 'bold', fontFamily: FONT, color: '#000', lineHeight: 18, verticalAlign: 'bottom' },
                s: { fontSize: 8.5, fontWeight: 'bold', fontFamily: FONT, color: '#000', lineHeight: 8, verticalAlign: 'top' } } } }),
    yAxisDef(2, 'log', insetRange, { z: 19, position: 'left',
      axisTick: { show: true, inside: true, length: 4, customValues: logMinor(insetRange), lineStyle: blackLine(1) } }),
    yAxisDef(2, 'log', insetRange, { z: 19, position: 'right',
      axisTick: { show: true, inside: true, length: 8, customValues: insetDecades, lineStyle: blackLine(1) } }),
    yAxisDef(2, 'log', insetRange, { z: 19, position: 'right',
      axisTick: { show: true, inside: true, length: 4, customValues: logMinor(insetRange), lineStyle: blackLine(1) } })
  ],
  graphic: [
    { type: 'rect', z: 10, silent: true, shape: { x: 345, y: 13, width: 359, height: 336 }, style: { fill: '#ffffff' } },
    richText(24, 8, yTitle, 23, 'right', Math.PI / 2),
    richText(19, 583, '{n|Data/Cocktail}', 19.5, 'right', Math.PI / 2),
    richText(361, 15, yTitle, 11.8, 'right', Math.PI / 2),
    richText(705, 752, massTitle, 19, 'right'),
    richText(703, 340, massTitle, 12.5, 'right'),
    richText(81, 724, '{n|0}', 18, 'right'),
    label(110, 45, '{n|p+p at√s = 200 GeV}', 25),
    { type: 'line', z: 20, silent: true, shape: { x1: 194, y1: 34.5, x2: 207.5, y2: 34.5 }, style: { stroke: '#000', lineWidth: 1.5 } },
    { type: 'circle', z: 20, silent: true, shape: { cx: 121, cy: 70.5, r: 5 }, style: { fill: BLUE } },
    label(134, 71, '{n|DATA}', 17),
    label(112, 106, '{n||y| < 0.35}', 16.5),
    label(112, 127, '{n|p}{sub|T}{n| > 0.2 GeV/c}', 16.5),
    ...legendGraphics
  ],
  series: [
    ...spectrumSeries(0, 0, 2, 1, 10),
    ...ratioSeries,
    ...spectrumSeries(3, 4, 11, 0.85, 9.5)
  ]
};

const chart = echarts.init(document.getElementById('chart'), null, { renderer: 'canvas', width: 709, height: 765 });
chart.setOption(option);
</script>
</body>
</html>
